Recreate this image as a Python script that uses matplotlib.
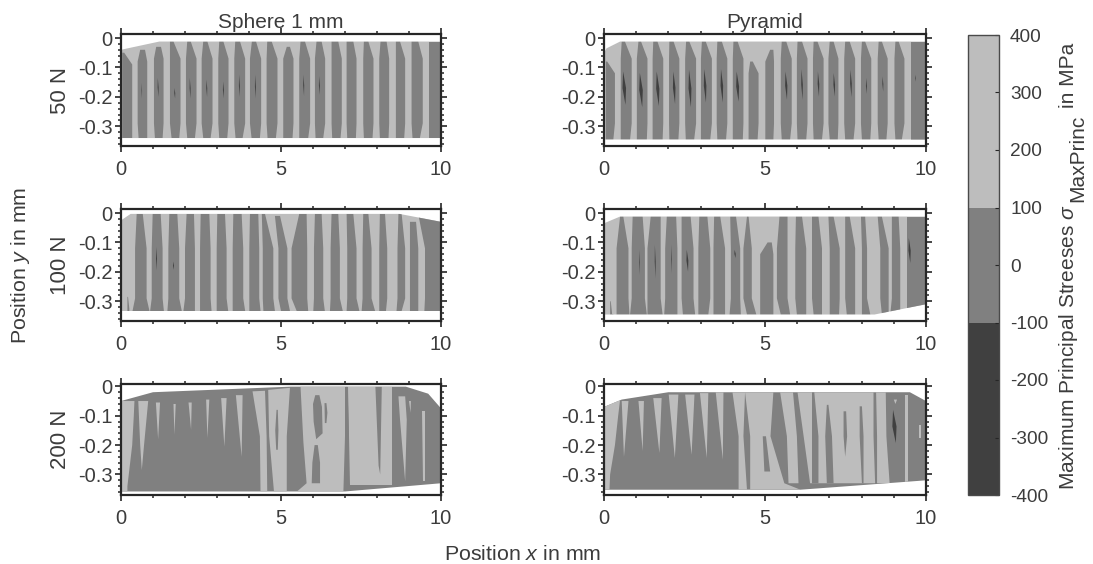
"""Maximum principal stress maps for sphere and pyramid indenters, three loads."""

import matplotlib
matplotlib.use("Agg")
import matplotlib.pyplot as plt
from matplotlib.cm import ScalarMappable
from matplotlib.colors import BoundaryNorm, ListedColormap
from matplotlib.patches import Polygon

plt.rcParams["font.family"] = ["Liberation Sans", "DejaVu Sans"]
plt.rcParams["mathtext.fontset"] = "custom"
plt.rcParams["mathtext.rm"] = "Liberation Sans"
plt.rcParams["mathtext.it"] = "Liberation Sans:italic"
plt.rcParams["axes.unicode_minus"] = False

LIGHT = "#bdbdbd"
MID = "#808080"
DARK = "#404040"
AXIS = "#262626"
TEXT = "#3c3c3c"

column_titles = ["Sphere 1 mm", "Pyramid"]
row_labels = ["50 N", "100 N", "200 N"]
x_ticks = [0, 5, 10]
y_ticks = [0, -0.1, -0.2, -0.3]
y_tick_labels = ["0", "-0.1", "-0.2", "-0.3"]
stress_levels = [-400, -100, 100, 400]
stress_ticks = [-400, -300, -200, -100, 0, 100, 200, 300, 400]

# specimen outlines, x and y in mm
sphere50_outline = [(0, -0.04), (1.2, -0.012), (10, -0.012), (10, -0.34), (0, -0.34)]
pyramid50_outline = [(0, -0.05), (0.08, -0.035), (0.5, -0.012), (10, -0.012), (10, -0.345), (0, -0.345)]
sphere100_outline = [(0, -0.025), (0.3, -0.003), (8.7, -0.003), (10, -0.03), (10, -0.333), (0, -0.333)]
pyramid100_outline = [(0, -0.035), (0.5, -0.012), (10, -0.012), (10, -0.31), (8.4, -0.345), (0, -0.345)]
sphere200_outline = [(0, -0.05), (1, -0.02), (5.3, -0.001), (8.9, -0.001), (9.6, -0.025), (10, -0.075),
                     (10, -0.33), (7, -0.358), (0, -0.358)]
pyramid200_outline = [(0, -0.07), (0.55, -0.045), (2, -0.02), (9.5, -0.02), (10, -0.05),
                      (10, -0.32), (6.1, -0.352), (0, -0.352)]

# stripes below 100 MPa: y top, then left/right edge at top, middle, bottom
sphere50_stripes = [
    (-0.05, 0.04, 0.1, 0.04, 0.35, 0.04, 0.35),
    (-0.04, 0.6, 0.75, 0.52, 0.82, 0.55, 0.82),
    (-0.03, 1.1, 1.25, 1.03, 1.33, 1.06, 1.3),
    (-0.012, 1.53, 1.64, 1.53, 1.86, 1.58, 1.82),
    (-0.012, 2.07, 2.18, 2.03, 2.36, 2.07, 2.31),
    (-0.012, 2.57, 2.7, 2.52, 2.86, 2.57, 2.8),
    (-0.012, 3.07, 3.2, 3.04, 3.36, 3.07, 3.32),
    (-0.012, 3.57, 3.72, 3.54, 3.88, 3.58, 3.8),
    (-0.012, 4.09, 4.22, 4.03, 4.38, 4.08, 4.34),
    (-0.012, 4.57, 4.71, 4.55, 4.89, 4.58, 4.84),
    (-0.03, 5.18, 5.28, 5.07, 5.39, 5.07, 5.36),
    (-0.012, 5.61, 5.75, 5.57, 5.91, 5.57, 5.85),
    (-0.012, 6.11, 6.27, 6.06, 6.38, 6.08, 6.32),
    (-0.012, 6.58, 6.79, 6.58, 6.9, 6.6, 6.86),
    (-0.012, 7.05, 7.26, 7.05, 7.36, 7.07, 7.34),
    (-0.012, 7.59, 7.73, 7.57, 7.89, 7.59, 7.86),
    (-0.012, 8.11, 8.3, 8.07, 8.38, 8.09, 8.36),
    (-0.012, 8.59, 8.72, 8.59, 8.88, 8.59, 8.85),
    (-0.012, 9.08, 9.29, 9.08, 9.43, 9.11, 9.34),
    (-0.012, 9.61, 10, 9.61, 10, 9.61, 10),
]
pyramid50_stripes = [
    (-0.08, 0.06, 0.1, 0.06, 0.34, 0.06, 0.29),
    (-0.012, 0.55, 0.65, 0.52, 0.86, 0.52, 0.81),
    (-0.012, 1.07, 1.15, 1.02, 1.35, 1.02, 1.33),
    (-0.012, 1.53, 1.66, 1.51, 1.84, 1.51, 1.82),
    (-0.012, 2.03, 2.16, 2.02, 2.34, 2.03, 2.31),
    (-0.012, 2.55, 2.65, 2.52, 2.86, 2.54, 2.8),
    (-0.012, 3.04, 3.16, 3.01, 3.35, 3.01, 3.3),
    (-0.012, 3.52, 3.66, 3.5, 3.83, 3.52, 3.79),
    (-0.012, 4.02, 4.15, 4.0, 4.33, 4.0, 4.31),
    (-0.08, 4.54, 4.62, 4.49, 4.8, 4.49, 4.77),
    (-0.04, 5.16, 5.26, 5.01, 5.28, 5.01, 5.26),
    (-0.012, 5.52, 5.66, 5.49, 5.83, 5.52, 5.78),
    (-0.012, 6.01, 6.15, 5.99, 6.32, 6.01, 6.28),
    (-0.012, 6.51, 6.63, 6.49, 6.82, 6.51, 6.77),
    (-0.012, 7.01, 7.13, 6.97, 7.28, 7.01, 7.26),
    (-0.012, 7.49, 7.63, 7.46, 7.8, 7.49, 7.75),
    (-0.012, 8.01, 8.11, 7.98, 8.3, 8.01, 8.27),
    (-0.012, 8.53, 8.63, 8.5, 8.81, 8.53, 8.77),
    (-0.012, 9.05, 9.15, 9.02, 9.33, 9.05, 9.25),
    (-0.012, 9.53, 10, 9.53, 10, 9.53, 10),
]
sphere100_stripes = [
    (-0.285, 0.2, 0.22, 0.2, 0.26, 0.2, 0.26),
    (-0.003, 0.49, 0.68, 0.44, 0.8, 0.36, 0.89),
    (-0.003, 0.99, 1.24, 0.96, 1.3, 0.91, 1.34),
    (-0.003, 1.51, 1.76, 1.48, 1.82, 1.45, 1.9),
    (-0.003, 2.05, 2.28, 2.0, 2.31, 1.95, 2.31),
    (-0.003, 2.49, 2.76, 2.47, 2.8, 2.47, 2.83),
    (-0.003, 3.01, 3.25, 2.99, 3.3, 2.99, 3.35),
    (-0.003, 3.51, 3.77, 3.49, 3.82, 3.49, 3.88),
    (-0.003, 4.03, 4.29, 4.01, 4.32, 4.01, 4.36),
    (-0.003, 4.4, 4.5, 4.43, 4.76, 4.45, 4.81),
    (-0.01, 4.81, 4.97, 4.92, 5.2, 5.0, 5.28),
    (-0.003, 5.57, 5.8, 5.33, 5.82, 5.49, 5.85),
    (-0.003, 6.06, 6.27, 6.03, 6.32, 6.01, 6.37),
    (-0.003, 6.58, 6.79, 6.55, 6.84, 6.53, 6.93),
    (-0.003, 7.05, 7.26, 7.07, 7.36, 7.05, 7.45),
    (-0.003, 7.57, 7.73, 7.55, 7.83, 7.52, 7.94),
    (-0.003, 8.09, 8.25, 8.07, 8.32, 8.07, 8.28),
    (-0.003, 8.67, 8.77, 8.64, 8.88, 8.61, 8.77),
    (-0.03, 9.03, 9.22, 9.03, 9.29, 9.03, 9.29),
    (-0.01, 9.3, 10, 9.5, 10, 9.48, 10),
]
pyramid100_stripes = [
    (-0.3, 0.19, 0.21, 0.19, 0.25, 0.19, 0.29),
    (-0.012, 0.5, 0.6, 0.39, 0.76, 0.39, 0.79),
    (-0.012, 0.89, 1.2, 0.86, 1.27, 0.81, 1.33),
    (-0.012, 1.45, 1.76, 1.35, 1.76, 1.35, 1.82),
    (-0.012, 1.95, 2.24, 1.9, 2.28, 1.87, 2.28),
    (-0.012, 2.41, 2.69, 2.41, 2.78, 2.45, 2.83),
    (-0.012, 2.96, 3.21, 2.93, 3.3, 2.93, 3.24),
    (-0.012, 3.42, 3.61, 3.4, 3.76, 3.4, 3.76),
    (-0.012, 3.92, 4.1, 3.94, 4.23, 3.9, 4.25),
    (-0.012, 4.44, 4.49, 4.33, 4.59, 4.44, 4.73),
    (-0.1, 5.08, 5.21, 4.85, 5.26, 4.85, 5.26),
    (-0.012, 5.45, 5.7, 5.37, 5.7, 5.49, 5.78),
    (-0.012, 5.96, 6.15, 5.94, 6.28, 5.99, 6.28),
    (-0.012, 6.46, 6.66, 6.46, 6.77, 6.51, 6.77),
    (-0.012, 6.97, 7.13, 7.01, 7.32, 7.01, 7.3),
    (-0.012, 7.49, 7.63, 7.49, 7.8, 7.54, 7.8),
    (-0.012, 7.98, 8.11, 8.01, 8.17, 8.01, 8.27),
    (-0.012, 8.5, 8.63, 8.58, 8.84, 8.63, 8.84),
    (-0.012, 8.94, 9.15, 8.94, 9.2, 8.89, 9.2),
    (-0.012, 9.41, 10, 9.41, 10, 9.41, 10),
]

# 200 N panels are mostly below 100 MPa, so the light regions are listed instead
sphere200_light = [
    [(0, -0.05), (0.42, -0.05), (0.4, -0.1), (0.35, -0.2), (0.2, -0.34), (0.2, -0.358), (0, -0.358)],
    [(0.54, -0.05), (0.85, -0.05), (0.72, -0.2), (0.65, -0.285), (0.6, -0.2)],
    [(1.09, -0.055), (1.22, -0.055), (1.16, -0.18)],
    [(1.64, -0.06), (1.71, -0.06), (1.67, -0.165)],
    [(2.11, -0.055), (2.21, -0.055), (2.19, -0.148)],
    [(2.66, -0.045), (2.76, -0.045), (2.7, -0.176)],
    [(3.13, -0.04), (3.3, -0.04), (3.23, -0.205)],
    [(3.59, -0.03), (3.8, -0.03), (3.77, -0.24)],
    [(4.11, -0.017), (4.5, -0.015), (4.55, -0.17), (4.57, -0.358), (4.36, -0.358), (4.34, -0.17)],
    [(4.6, -0.012), (5.28, -0.005), (5.18, -0.17), (5.18, -0.358), (4.78, -0.358), (4.63, -0.17)],
    [(5.61, -0.001), (7.0, -0.001), (7.0, -0.17), (6.95, -0.358), (5.5, -0.358), (5.8, -0.33), (5.7, -0.19)],
    [(7.1, -0.001), (8.46, -0.001), (8.46, -0.335), (7.16, -0.335)],
    [(8.67, -0.034), (8.88, -0.034), (8.93, -0.114), (8.88, -0.324), (8.72, -0.114)],
    [(9.4, -0.085), (9.5, -0.085), (9.5, -0.324), (9.45, -0.324)],
    [(9.0, -0.05), (9.06, -0.05), (9.05, -0.09)],
]
sphere200_dark = [
    [(4.86, -0.08), (4.9, -0.08), (4.92, -0.15), (4.9, -0.216), (4.85, -0.216), (4.82, -0.15)],
    [(6.07, -0.03), (6.2, -0.03), (6.28, -0.07), (6.3, -0.16), (6.1, -0.18), (6.02, -0.12), (6.0, -0.06)],
    [(6.36, -0.057), (6.42, -0.057), (6.45, -0.09), (6.42, -0.125), (6.37, -0.125)],
    [(6.05, -0.2), (6.15, -0.2), (6.22, -0.26), (6.22, -0.33), (5.96, -0.33), (5.98, -0.26)],
    [(7.02, -0.001), (7.08, -0.001), (7.12, -0.17), (7.1, -0.35), (7.02, -0.35), (7.0, -0.17)],
    [(7.95, -0.001), (8.15, -0.001), (8.1, -0.3), (8.05, -0.27)],
]
pyramid200_light = [
    [(0, -0.07), (0.5, -0.045), (0.44, -0.1), (0.34, -0.2), (0.19, -0.3), (0.17, -0.352), (0, -0.352)],
    [(0.55, -0.05), (0.76, -0.05), (0.62, -0.24)],
    [(1.07, -0.05), (1.24, -0.05), (1.2, -0.22)],
    [(1.53, -0.04), (1.79, -0.04), (1.72, -0.227)],
    [(2.01, -0.028), (2.31, -0.028), (2.2, -0.244)],
    [(2.52, -0.028), (2.81, -0.028), (2.72, -0.233)],
    [(2.98, -0.023), (3.24, -0.023), (3.19, -0.244)],
    [(3.47, -0.02), (3.71, -0.02), (3.69, -0.25)],
    [(3.99, -0.02), (4.38, -0.02), (4.33, -0.17), (4.44, -0.352), (4.18, -0.352), (4.18, -0.17)],
    [(4.38, -0.02), (5.26, -0.02), (5.17, -0.17), (5.6, -0.33), (6.1, -0.352), (4.54, -0.352), (4.54, -0.17)],
    [(5.47, -0.02), (5.87, -0.02), (5.99, -0.17), (6.04, -0.33), (5.73, -0.33), (5.68, -0.17)],
    [(6.01, -0.02), (8.37, -0.02), (8.37, -0.17), (8.42, -0.33), (6.4, -0.33), (6.2, -0.17)],
    [(8.45, -0.02), (8.75, -0.02), (8.77, -0.17), (8.87, -0.33), (8.48, -0.33), (8.48, -0.17)],
    [(9.36, -0.028), (9.43, -0.028), (9.43, -0.33), (9.36, -0.33)],
    [(9.77, -0.13), (9.84, -0.13), (9.84, -0.176), (9.77, -0.176)],
    [(9.0, -0.045), (9.1, -0.045), (9.05, -0.06)],
]
pyramid200_dark = [
    [(4.93, -0.17), (5.03, -0.17), (5.16, -0.29), (4.98, -0.29)],
    [(6.46, -0.02), (6.53, -0.02), (6.66, -0.17), (6.66, -0.33), (6.46, -0.33), (6.46, -0.17)],
    [(6.92, -0.063), (6.97, -0.063), (7.08, -0.17), (7.13, -0.33), (6.92, -0.33), (6.87, -0.17)],
    [(7.44, -0.085), (7.52, -0.085), (7.55, -0.17), (7.49, -0.24), (7.44, -0.17)],
    [(7.94, -0.068), (8.01, -0.068), (8.06, -0.17), (8.06, -0.33), (8.01, -0.33), (7.94, -0.17)],
]

# compressive slivers: x, y top, y bottom, width in mm
sphere50_slivers = [
    (0.65, -0.153, -0.205, 0.015), (1.16, -0.136, -0.2, 0.03), (1.68, -0.17, -0.205, 0.03),
    (2.16, -0.136, -0.205, 0.03), (2.68, -0.142, -0.2, 0.03), (3.2, -0.148, -0.205, 0.03),
    (3.7, -0.125, -0.2, 0.03), (4.2, -0.125, -0.205, 0.03), (5.71, -0.125, -0.197, 0.03),
    (6.2, -0.13, -0.193, 0.03),
]
pyramid50_slivers = [
    (0.63, -0.114, -0.227, 0.11), (1.15, -0.119, -0.235, 0.11), (1.67, -0.114, -0.231, 0.1),
    (2.18, -0.114, -0.224, 0.08), (2.67, -0.108, -0.235, 0.09), (3.14, -0.106, -0.219, 0.08),
    (3.66, -0.106, -0.219, 0.08), (4.15, -0.114, -0.216, 0.09), (5.66, -0.114, -0.21, 0.07),
    (6.15, -0.106, -0.21, 0.05), (6.66, -0.114, -0.199, 0.05), (7.15, -0.119, -0.199, 0.05),
    (7.67, -0.108, -0.201, 0.05), (8.15, -0.136, -0.19, 0.03), (8.66, -0.131, -0.182, 0.03),
    (9.67, -0.125, -0.148, 0.02),
]
sphere100_slivers = [(1.11, -0.115, -0.195, 0.03), (1.64, -0.165, -0.193, 0.03)]
pyramid100_slivers = [
    (1.1, -0.125, -0.21, 0.02), (1.59, -0.108, -0.222, 0.03), (2.1, -0.108, -0.205, 0.02),
    (2.59, -0.125, -0.199, 0.06), (4.07, -0.125, -0.153, 0.04), (9.49, -0.085, -0.17, 0.07),
]
sphere200_slivers = []
pyramid200_slivers = [(9.02, -0.08, -0.193, 0.13)]


def stripe_polygon(stripe, y_bottom, y_shoulder):
    y_top, top_l, top_r, mid_l, mid_r, bot_l, bot_r = stripe
    y_upper = min(y_shoulder, y_top - 0.04)
    y_lower = min(-0.29, y_upper - 0.03)
    return [
        (top_l, y_top), (top_r, y_top), (mid_r, y_upper), (mid_r, y_lower), (bot_r, y_bottom),
        (bot_l, y_bottom), (mid_l, y_lower), (mid_l, y_upper),
    ]


def add_clipped(ax, points, color, clip):
    patch = Polygon(points, closed=True, facecolor=color, edgecolor="none")
    ax.add_patch(patch)
    patch.set_clip_path(clip)


def draw_panel(ax, outline, base, stripes, y_shoulder, light, dark, slivers):
    clip = Polygon(outline, closed=True, facecolor=base, edgecolor="none")
    ax.add_patch(clip)
    y_bottom = min(p[1] for p in outline)
    for stripe in stripes:
        add_clipped(ax, stripe_polygon(stripe, y_bottom, y_shoulder), MID, clip)
    for points in light:
        add_clipped(ax, points, LIGHT, clip)
    for points in dark:
        add_clipped(ax, points, MID, clip)
    for x, y1, y2, w in slivers:
        # slanted lens shape, as the slivers lean to the right going down
        ym = (y1 + y2) / 2
        add_clipped(ax, [(x - w / 3, y1), (x + w / 2, ym), (x + w / 3, y2), (x - w / 2, ym)], DARK, clip)


def style_axes(ax, ylim):
    ax.set_xlim(0, 10)
    ax.set_ylim(*ylim)
    ax.set_xticks(x_ticks)
    ax.set_xticks(range(0, 11), minor=True)
    ax.set_yticks(y_ticks)
    ax.set_yticklabels(y_tick_labels)
    ax.set_yticks([-0.02 * i for i in range(-0, 19)], minor=True)
    ax.tick_params(which="major", direction="out", length=4, width=1.2, color=AXIS,
                   labelcolor=TEXT, labelsize=14.5, top=True, right=True)
    ax.tick_params(which="minor", direction="out", length=2, width=1.1, color=AXIS,
                   top=True, right=True)
    ax.tick_params(axis="x", which="major", pad=6)
    ax.tick_params(axis="y", which="major", pad=2)
    for spine in ax.spines.values():
        spine.set_linewidth(1.6)
        spine.set_color(AXIS)


W, H = 1093, 564
fig = plt.figure(figsize=(W / 100, H / 100), dpi=100)


def axes_px(left, top, right, bottom):
    return fig.add_axes([left / W, 1 - bottom / H, (right - left) / W, (bottom - top) / H])


column_px = [(121, 441), (604, 926)]
row_px = [(34, 146), (209, 321), (384, 495)]
row_ylim = [(-0.367, 0.0136), (-0.367, 0.0136), (-0.37, 0.008)]

panels = [
    [
        (sphere50_outline, LIGHT, sphere50_stripes, -0.07, [], [], sphere50_slivers),
        (pyramid50_outline, LIGHT, pyramid50_stripes, -0.07, [], [], pyramid50_slivers),
    ],
    [
        (sphere100_outline, LIGHT, sphere100_stripes, -0.12, [], [], sphere100_slivers),
        (pyramid100_outline, LIGHT, pyramid100_stripes, -0.12, [], [], pyramid100_slivers),
    ],
    [
        (sphere200_outline, MID, [], -0.1, sphere200_light, sphere200_dark, sphere200_slivers),
        (pyramid200_outline, MID, [], -0.1, pyramid200_light, pyramid200_dark, pyramid200_slivers),
    ],
]

for r, (top, bottom) in enumerate(row_px):
    for c, (left, right) in enumerate(column_px):
        ax = axes_px(left, top, right, bottom)
        draw_panel(ax, *panels[r][c])
        style_axes(ax, row_ylim[r])
        if r == 0:
            fig.text((left + right) / 2 / W, 1 - 23 / H, column_titles[c], ha="center", va="center",
                     fontsize=15, color=TEXT)
    fig.text(60 / W, 1 - (top + bottom) / 2 / H, row_labels[r], rotation=90, ha="center", va="center",
             fontsize=16, color=TEXT)

fig.text(21 / W, 1 - 265 / H, r"Position $\mathit{y}$ in mm", rotation=90, ha="center", va="center",
         fontsize=15.4, color=TEXT)
fig.text(523 / W, 1 - 554 / H, r"Position $\mathit{x}$ in mm", ha="center", va="center",
         fontsize=15.4, color=TEXT)

cax = axes_px(968, 35, 999, 495)
norm = BoundaryNorm(stress_levels, 3)
cmap = ListedColormap([DARK, MID, LIGHT])
cbar = fig.colorbar(ScalarMappable(norm=norm, cmap=cmap), cax=cax, spacing="proportional", ticks=stress_ticks)
cbar.minorticks_off()
cbar.ax.tick_params(direction="in", length=3, width=0.8, color=AXIS, labelcolor=TEXT, labelsize=13.7, pad=8)
cbar.outline.set_linewidth(1.0)
cbar.outline.set_edgecolor("#4a4a4a")

# the subscript in the label is nearly full size, so the pieces are placed one by one
fig.text(1068 / W, 1 - 490 / H, r"Maximum Principal Streeses $\sigma$", rotation=90, ha="center", va="bottom",
         fontsize=15, color=TEXT)
fig.text(1078 / W, 1 - 202 / H, "MaxPrinc", rotation=90, ha="center", va="bottom", fontsize=15, color=TEXT)
fig.text(1068 / W, 1 - 43 / H, "in MPa", rotation=90, ha="center", va="top", fontsize=15, color=TEXT)

fig.savefig("out.png", dpi=100)
